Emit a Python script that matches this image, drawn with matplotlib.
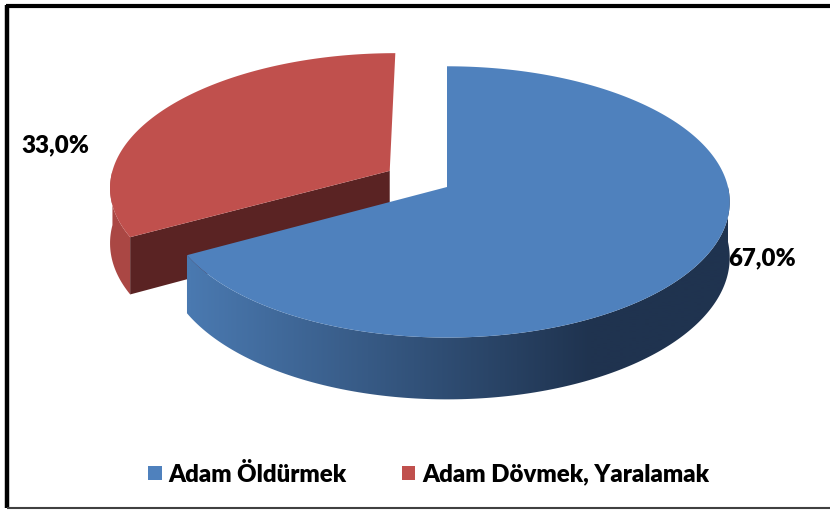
import numpy as np
import matplotlib
matplotlib.use("Agg")
import matplotlib.pyplot as plt
from matplotlib.patches import Polygon, Patch

# data
categories = ["Adam Öldürmek", "Adam Dövmek, Yaralamak"]
values = [67.0, 33.0]
top_colors = ["#4F81BD", "#C0504D"]

W, H_PX = 830, 511
CX, CY = 447, 187      # pie centre (pixels)
RX, RY = 281, 134      # top ellipse radii
DEPTH = 55             # side thickness
P = 0.11               # perspective strength
EXPLODE = 0.24         # explode for red slice

FONT = ["Lato", "DejaVu Sans"]
FS = 17.3


def proj(u, v, z=0.0):
    s = 1.0 / (1.0 - P * v)
    return CX + RX * u * s, CY + (RY * v + DEPTH * z) * s


def rim(theta_deg, off=(0.0, 0.0), z=0.0):
    t = np.radians(theta_deg)
    u = np.cos(t) + off[0]
    v = -np.sin(t) + off[1]
    return proj(u, v, z)


fig = plt.figure(figsize=(W / 100, H_PX / 100), dpi=100)
ax = fig.add_axes([0, 0, 1, 1])
ax.set_xlim(0, W)
ax.set_ylim(H_PX, 0)
ax.axis("off")

# angles: blue goes clockwise from 12 o'clock, red takes the rest
blue_span = values[0] / sum(values) * 360
cut = 90 + 360 - blue_span          # angle where blue ends / red starts (math deg)
red_start, red_end = 90, cut
mid = np.radians((red_start + red_end) / 2)
roff = (EXPLODE * np.cos(mid), -EXPLODE * np.sin(mid))

# ---- red slice (behind) ----
th = np.linspace(180, red_end, 30)
pts = [rim(a, roff, 0) for a in th] + [rim(a, roff, 1) for a in th[::-1]]
ax.add_patch(Polygon(pts, closed=True, fc="#AA4744", ec="none", zorder=1))

apex_t = proj(roff[0], roff[1], 0)
apex_b = proj(roff[0], roff[1], 1)
face = [apex_t, rim(red_end, roff, 0), rim(red_end, roff, 1), apex_b]
ax.add_patch(Polygon(face, closed=True, fc="#5A2323", ec="none", zorder=2))

th = np.linspace(red_start, red_end, 120)
top = [apex_t] + [rim(a, roff, 0) for a in th]
ax.add_patch(Polygon(top, closed=True, fc=top_colors[1], ec="none", zorder=3))

# ---- blue slice: side with horizontal gradient ----
th = np.linspace(cut, 360, 200)
side = [rim(a, z=0) for a in th] + [rim(a, z=1) for a in th[::-1]]
side_patch = Polygon(side, closed=True, fc="none", ec="none", zorder=4)
ax.add_patch(side_patch)
c_left = np.array([74, 121, 176]) / 255
c_right = np.array([31, 51, 79]) / 255
xs = np.arange(0, W)
t = np.clip((xs - 190) / (590 - 190), 0, 1)[None, :, None]
grad = c_left + (c_right - c_left) * t
grad = np.repeat(grad, 2, axis=0)
im = ax.imshow(grad, extent=(0, W, 420, 180), aspect="auto", zorder=4,
               interpolation="bilinear")
im.set_clip_path(side_patch)

th = np.linspace(cut, 450, 240)
top = [proj(0, 0)] + [rim(a) for a in th]
ax.add_patch(Polygon(top, closed=True, fc=top_colors[0], ec="none", zorder=5))

ax.set_xlim(0, W)
ax.set_ylim(H_PX, 0)

# ---- labels ----
def pct(v):
    return f"{v:.1f}%".replace(".", ",")

ax.text(728, 258, pct(values[0]), ha="left", va="center", fontsize=FS,
        fontweight="heavy", family=FONT, zorder=6)
ax.text(21, 145, pct(values[1]), ha="left", va="center", fontsize=FS,
        fontweight="heavy", family=FONT, zorder=6)

# ---- legend ----
handles = [Patch(fc=c, ec="none") for c in top_colors]
ax.legend(handles, categories, loc="center", bbox_to_anchor=(429 / W, 1 - 474 / H_PX),
          ncol=2, frameon=False, handlelength=0.55, handleheight=0.55,
          handletextpad=0.3, columnspacing=2.3,
          prop={"family": FONT, "weight": "heavy", "size": FS})

# ---- chart border ----
ax.plot([7, 7], [5, 508], color="black", lw=3.2, solid_capstyle="butt", zorder=7)
ax.plot([5.5, W], [6.5, 6.5], color="black", lw=3, solid_capstyle="butt", zorder=7)
ax.plot([7, W], [508, 508], color="#404040", lw=1.5, solid_capstyle="butt", zorder=7)

fig.savefig("out.png", dpi=100)
